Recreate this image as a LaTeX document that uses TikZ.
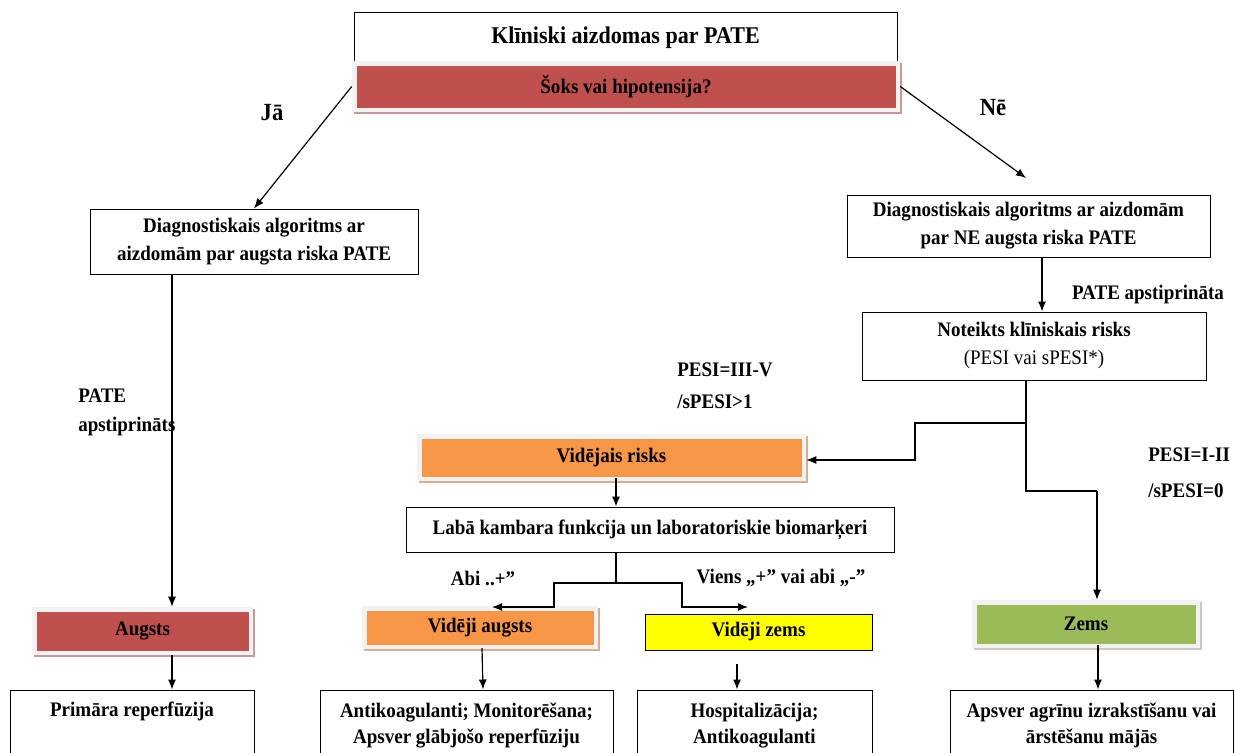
\documentclass[tikz,border=0pt]{standalone}
\usepackage{fontspec}
\setmainfont{Liberation Serif}[FakeStretch=0.92]
\usetikzlibrary{arrows.meta,calc}
\definecolor{cred}{HTML}{C0504D}
\definecolor{corange}{HTML}{F79646}
\definecolor{cgreen}{HTML}{9BBB59}
\definecolor{cyellow}{HTML}{FFFF00}
\definecolor{glowgray}{HTML}{F2F2F2}
\definecolor{shred}{HTML}{C49A9A}
\definecolor{shorange}{HTML}{D8AE8C}
\definecolor{shgreen}{HTML}{C8C8C8}
\newcommand{\bodyfont}{\fontsize{15.5}{21}\selectfont\bfseries}
\newcommand{\lowfont}{\fontsize{15.5}{19}\selectfont\bfseries}
\begin{document}
\begin{tikzpicture}[x=0.75pt,y=-0.75pt,
  box/.style={draw=black, line width=0.75pt, fill=white, align=center, inner sep=0pt, font=\bodyfont},
  lowbox/.style={box, font=\lowfont},
  glow/.style 2 args={fill=glowgray, inner sep=0pt, align=center, font=\bodyfont,
     preaction={fill=#2, transform canvas={shift={(1.6pt,-1.6pt)}}},
     path picture={\fill[#1] ($(path picture bounding box.south west)+(4.5,-4.5)$) rectangle ($(path picture bounding box.north east)+(-4.5,4.5)$);}},
  arr/.style={line width=0.9pt, -{Latex[length=7.5pt,width=6pt]}},
  ln/.style={line width=0.9pt},
  lbl/.style={font=\bodyfont, inner sep=0pt, align=left}
]
\clip (0,0) rectangle (1235,753);
\fill[white] (0,0) rectangle (1235,753);

% top
\node[box, minimum width=543*0.75pt, minimum height=51*0.75pt, font=\fontsize{18}{20}\selectfont\bfseries, anchor=center] (title) at (625.5,38) {\raisebox{4pt}{Klīniski aizdomas par PATE}};
\node[glow={cred}{shred}, minimum width=548*0.75pt, minimum height=51*0.75pt] (shock) at (626,86.5) {Šoks vai hipotensija?};

\node[lbl, font=\fontsize{18.5}{20}\selectfont\bfseries] (ja) at (272,113) {Jā};
\node[lbl, font=\fontsize{18.5}{20}\selectfont\bfseries] (ne) at (993,108) {Nē};

\node[box, minimum width=328*0.75pt, minimum height=65*0.75pt] (ldiag) at (254,241.5) {Diagnostiskais algoritms ar\\aizdomām par augsta riska PATE};
\node[box, minimum width=363*0.75pt, minimum height=62*0.75pt] (rdiag) at (1028.5,226) {Diagnostiskais algoritms ar aizdomām\\par NE augsta riska PATE};

\node[lbl, anchor=center] (pateA) at (1148,295) {PATE apstiprināta};
\node[box, minimum width=344*0.75pt, minimum height=68*0.75pt] (noteikts) at (1034,346) {Noteikts klīniskais risks\\{\mdseries (PESI vai sPESI*)}};

\node[lbl, anchor=west, font=\fontsize{15.5}{22}\selectfont\bfseries] (pateL) at (78,412.5) {PATE\\apstiprināts};
\node[lbl, anchor=west, font=\fontsize{15.5}{24}\selectfont\bfseries] (pesiH) at (677,386) {PESI=III-V\\/sPESI>1};
\node[lbl, anchor=west, font=\fontsize{15.5}{27}\selectfont\bfseries] (pesiL) at (1148,472.5) {PESI=I-II\\/sPESI=0};

\node[glow={corange}{shorange}, minimum width=389*0.75pt, minimum height=47*0.75pt] (vrisk) at (611.5,457.5) {Vidējais risks};
\node[box, minimum width=488*0.75pt, minimum height=45*0.75pt] (laba) at (650,529.5) {Labā kambara funkcija un laboratoriskie biomarķeri};

\node[lbl, anchor=center] (abi) at (483,578) {Abi ..+”};
\node[lbl, anchor=center] (viens) at (781,578) {Viens „+” vai abi „-”};

\node[glow={cred}{shred}, minimum width=221*0.75pt, minimum height=48*0.75pt] (augsts) at (142.5,631) {Augsts};
\node[glow={corange}{shorange}, minimum width=236*0.75pt, minimum height=43*0.75pt] (vaugsts) at (480,627.5) {Vidēji augsts};
\node[box, fill=cyellow, minimum width=227*0.75pt, minimum height=36*0.75pt] (vzems) at (758.5,632) {Vidēji zems};
\node[glow={cgreen}{shgreen}, minimum width=228*0.75pt, minimum height=48*0.75pt] (zems) at (1086,624) {Zems};

\node[lowbox, minimum width=244*0.75pt, minimum height=71*0.75pt] (primara) at (132,725.5) {Primāra reperfūzija\\\strut};
\node[lowbox, minimum width=293*0.75pt, minimum height=71*0.75pt] (antiko) at (466.5,725.5) {Antikoagulanti; Monitorēšana;\\Apsver glābjošo reperfūziju};
\node[lowbox, minimum width=235*0.75pt, minimum height=71*0.75pt] (hosp) at (754.5,725.5) {Hospitalizācija;\\Antikoagulanti};
\node[lowbox, minimum width=283*0.75pt, minimum height=71*0.75pt] (apsver) at (1091.5,725.5) {Apsver agrīnu izrakstīšanu vai\\ārstēšanu mājās};

% connectors
\coordinate (neTip) at (1026,178);
\draw[arr] (shock.west) -- (ldiag.north);
\draw[arr] (shock.east) -- (neTip);
\draw[arr] (1042,0 |- rdiag.south) -- (1042,0 |- noteikts.north);
\draw[arr] (172,0 |- ldiag.south) -- (172,0 |- augsts.north);
\draw[arr] (172,0 |- augsts.south) -- (172,0 |- primara.north);

\coordinate (n1) at (1026,423);
\coordinate (n2) at (1026,491);
\draw[ln] (1026,0 |- noteikts.south) -- (n2) -- (1097,491);
\draw[arr] (1097,491) -- (1097,0 |- zems.north);
\draw[arr] (n1) -- (915,423) -- (915,460) -- (vrisk.east |- 0,460);

\draw[arr] (616,478) -- (616,0 |- laba.north);
\coordinate (b0) at (616,583);
\draw[ln] (616,0 |- laba.south) -- (b0);
\draw[arr] (b0) -- (554,583) -- (554,607) -- (492,607);
\draw[arr] (b0) -- (682,583) -- (682,607) -- (748,607);

\draw[arr] (482,648) -- (483,0 |- antiko.north);
\draw[arr] (737,664) -- (737,0 |- hosp.north);
\draw[arr] (1098,645) -- (1098,0 |- apsver.north);
\end{tikzpicture}
\end{document}
